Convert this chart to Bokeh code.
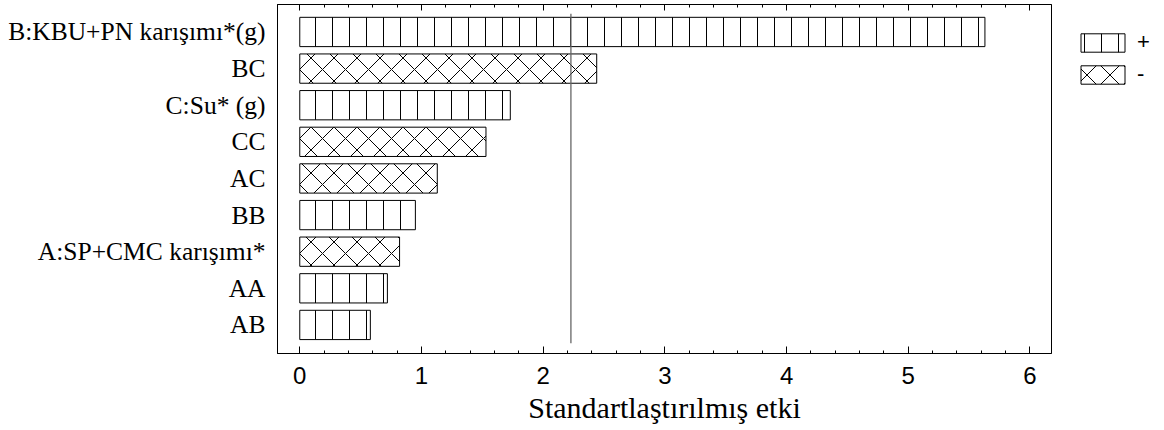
from bokeh.plotting import figure
from bokeh.models import (ColumnDataSource, Range1d, FixedTicker, SingleIntervalTicker,
                          LinearAxis, Legend, LegendItem, CustomJSTickFormatter)
from bokeh.embed import file_html
from bokeh.resources import INLINE

# Standardized Pareto effects (absolute values) and the sign of each effect
factors = ["B:KBU+PN karışımı*(g)", "BC", "C:Su* (g)", "CC", "AC", "BB",
           "A:SP+CMC karışımı*", "AA", "AB"]
effects = [5.63, 2.44, 1.73, 1.53, 1.13, 0.95, 0.82, 0.72, 0.58]
signs = ["+", "-", "+", "-", "-", "+", "-", "+", "+"]
critical_t = 2.228
x_title = "Standartlaştırılmış etki"

n = len(factors)
ypos = [n - i for i in range(n)]  # largest effect at the top

def subset(sign):
    idx = [i for i, s in enumerate(signs) if s == sign]
    return ColumnDataSource(dict(y=[ypos[i] for i in idx],
                                 v=[effects[i] for i in idx]))

p = figure(frame_width=774, frame_height=349, output_backend="svg",
           toolbar_location=None,
           x_range=Range1d(-0.183, 6.177), y_range=Range1d(0.22, 9.75),
           min_border_left=277, min_border_right=113, min_border_top=4,
           min_border_bottom=77)
p.background_fill_color = "white"
p.border_fill_color = "white"
p.outline_line_color = "black"
p.outline_line_width = 1
p.xgrid.visible = False
p.ygrid.visible = False

bar_kw = dict(left=0, right="v", y="y", height=0.8, fill_color="white",
              line_color="black", line_width=1, hatch_color="black",
              hatch_weight=1)
r_pos = p.hbar(source=subset("+"), hatch_pattern="vertical_line", hatch_scale=17,
               **bar_kw)
r_neg = p.hbar(source=subset("-"), hatch_pattern="diagonal_cross", hatch_scale=23,
               **bar_kw)

# critical value of the t statistic
p.segment(x0=[critical_t], y0=[0.5], x1=[critical_t], y1=[n + 0.5],
          line_color="#666666", line_width=1.3)

# bottom axis
xa = p.xaxis[0]
xa.ticker = SingleIntervalTicker(interval=1, num_minor_ticks=5)
xa.major_tick_in = 7
xa.major_tick_out = 0
xa.minor_tick_in = 3
xa.minor_tick_out = 0
xa.axis_line_color = "black"
xa.major_tick_line_color = "black"
xa.minor_tick_line_color = "black"
xa.major_label_text_font = "Liberation Sans"
xa.major_label_text_font_size = "24px"
xa.major_label_text_color = "black"
xa.major_label_standoff = 13
xa.axis_label = x_title
xa.axis_label_text_font = "Liberation Serif"
xa.axis_label_text_font_style = "normal"
xa.axis_label_text_font_size = "30px"
xa.axis_label_text_color = "black"
xa.axis_label_standoff = 4

# top axis: ticks only, no labels
top = LinearAxis(ticker=SingleIntervalTicker(interval=1, num_minor_ticks=5),
                 formatter=CustomJSTickFormatter(code="return ''"))
top.major_tick_in = 6
top.major_tick_out = 0
top.minor_tick_in = 3
top.minor_tick_out = 0
top.major_label_standoff = 0
top.axis_line_color = "black"
p.add_layout(top, "above")

# left axis with factor names
ya = p.yaxis[0]
ya.ticker = FixedTicker(ticks=ypos)
ya.major_label_overrides = {y: f for y, f in zip(ypos, factors)}
ya.major_tick_in = 0
ya.major_tick_out = 0
ya.minor_tick_in = 0
ya.minor_tick_out = 0
ya.axis_line_color = "black"
ya.major_label_text_font = "Liberation Serif"
ya.major_label_text_font_size = "25.5px"
ya.major_label_text_color = "black"
ya.major_label_standoff = 12

# legend glyphs are drawn inset by 10% of their box, hence 55 x 23
legend = Legend(items=[LegendItem(label="+", renderers=[r_pos]),
                       LegendItem(label="-", renderers=[r_neg])],
                location=(24, 266), orientation="vertical")
legend.glyph_width = 55
legend.glyph_height = 23
legend.label_height = 23
legend.label_standoff = 7
legend.spacing = 6
legend.padding = 0
legend.margin = 0
legend.border_line_color = None
legend.background_fill_alpha = 0
legend.label_text_font = "Liberation Sans"
legend.label_text_font_size = "22px"
legend.label_text_color = "black"
p.add_layout(legend, "right")

open("out.html", "w").write(file_html(p, INLINE))
